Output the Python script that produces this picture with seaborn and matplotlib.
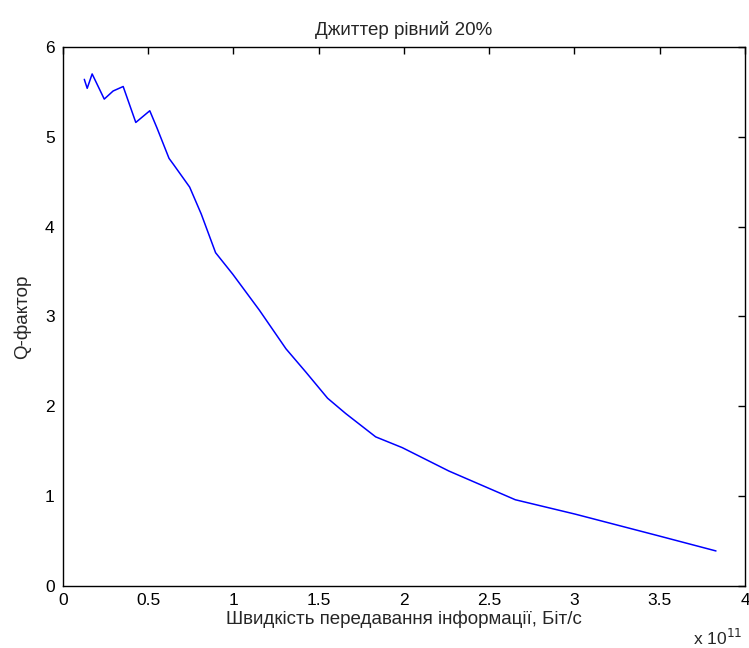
import matplotlib
matplotlib.use("Agg")
import matplotlib.pyplot as plt
import seaborn as sns

# Dane (predkosc w bit/s, Q-faktor)
speed = [0.125e11, 0.142e11, 0.171e11, 0.242e11, 0.294e11, 0.353e11, 0.427e11,
         0.509e11, 0.551e11, 0.622e11, 0.649e11, 0.743e11, 0.811e11, 0.895e11,
         0.996e11, 1.152e11, 1.308e11, 1.425e11, 1.552e11, 1.658e11, 1.834e11,
         1.99e11, 2.263e11, 2.653e11, 3.004e11, 3.49e11, 3.83e11]
q_factor = [5.64, 5.54, 5.70, 5.42, 5.51, 5.56, 5.16,
            5.29, 5.10, 4.76, 4.69, 4.44, 4.14, 3.71,
            3.47, 3.07, 2.64, 2.38, 2.09, 1.92, 1.66,
            1.54, 1.28, 0.96, 0.80, 0.56, 0.39]

x_ticks = [0, 0.5e11, 1e11, 1.5e11, 2e11, 2.5e11, 3e11, 3.5e11, 4e11]
x_tick_labels = ["0", "0.5", "1", "1.5", "2", "2.5", "3", "3.5", "4"]
y_ticks = [0, 1, 2, 3, 4, 5, 6]

sns.set_style("white")
plt.rcParams["font.family"] = ["Liberation Sans", "DejaVu Sans"]

fig = plt.figure(figsize=(7.49, 6.48), dpi=100)
ax = fig.add_axes([0.0841, 0.0957, 0.9105, 0.8318])

sns.lineplot(x=speed, y=q_factor, ax=ax, color="#0000ff", linewidth=1.1, sort=False)

ax.set_xlim(0, 4e11)
ax.set_ylim(0, 6)
ax.set_xticks(x_ticks)
ax.set_xticklabels(x_tick_labels)
ax.set_yticks(y_ticks)
ax.tick_params(direction="in", length=5, width=1, top=True, right=True,
               labelsize=12.5, colors="black")
ax.tick_params(axis="x", pad=5)
ax.tick_params(axis="y", pad=6)
for spine in ax.spines.values():
    spine.set_visible(True)
    spine.set_color("black")
    spine.set_linewidth(1)

ax.set_title("Джиттер рівний 20%", fontsize=13.5, pad=8.6)
ax.set_xlabel("Швидкість передавання інформації, Біт/с", fontsize=13.5, labelpad=2)
ax.set_ylabel("Q-фактор", fontsize=13.5, labelpad=10)
fig.text(0.925, 0.004, "x 10$^{11}$", fontsize=12.5, ha="left", va="baseline")

fig.savefig("out.png", dpi=100, facecolor="white")
